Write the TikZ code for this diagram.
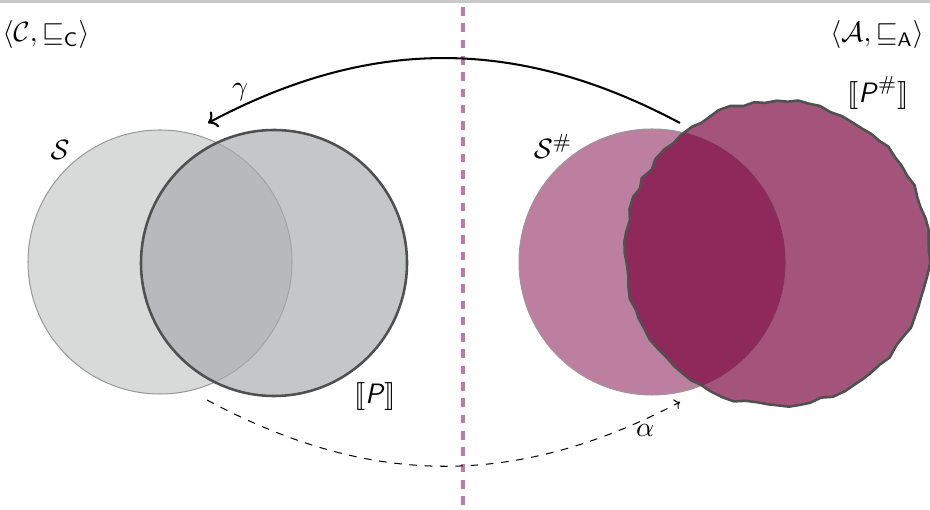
\documentclass[tikz,border=0pt]{standalone}
\usepackage{amsmath, amssymb, stmaryrd}
\usepackage{tikz}
\usetikzlibrary{arrows.meta, decorations.pathmorphing}

\definecolor{bandgray}{RGB}{200,200,200}
\definecolor{sepplum}{RGB}{192,122,160}
\definecolor{concS}{RGB}{216,217,217}
\definecolor{concP}{RGB}{169,170,173}
\definecolor{absS}{RGB}{189,127,160}
\definecolor{absP}{RGB}{120,0,57}
\definecolor{rimgray}{RGB}{80,80,80}

\begin{document}
\begin{tikzpicture}[x=0.0138cm, y=0.0138cm, font=\fontsize{11}{13}\selectfont]
\useasboundingbox (0,0) rectangle (930,509);

% Top band
\fill[bandgray] (0,506) rectangle (930,509);

% Separator between the two domains
\draw[sepplum, line width=1.3pt, dash pattern=on 3.4pt off 3pt] (463,502) -- (463,0);

% Concrete side
\draw[gray!80, line width=0.4pt, fill=concS] (160,247) circle (132);
\draw[rimgray, line width=1pt, fill=concP, fill opacity=0.67] (274,246) circle (133);

% Abstract side
\draw[gray!80, line width=0.4pt, fill=absS] (652,247) circle (133);
\pgfmathsetseed{7}
\draw[rimgray, line width=1pt, fill=absP, fill opacity=0.67,
  decorate, decoration={random steps, segment length=4.5pt, amplitude=0.8pt}]
  (777,256) circle (152);

% Labels
\node (domC) at (46,474) {$\langle\mathcal{C},\sqsubseteq_{\textsf{C}}\rangle$};
\node (domA) at (877,474) {$\langle\mathcal{A},\sqsubseteq_{\textsf{A}}\rangle$};
\node (setS) at (60,359) {$\mathcal{S}$};
\node (setSa) at (553,363) {$\mathcal{S}^{\#}$};
\node (semP) at (375,112) {$\llbracket\textsf{\textit{P}}\rrbracket$};
\node (semPa) at (878,416) {$\llbracket\textsf{\textit{P}}^{\#}\rrbracket$};

% gamma
\coordinate (gamFrom) at (680,386);
\coordinate (gamTo) at (208,386);
\draw[-{To}, line width=0.8pt] (gamFrom) to[bend right=28] (gamTo);
\node (gam) at (240,417) {$\gamma$};

% alpha
\coordinate (alpFrom) at (207,109);
\coordinate (alpTo) at (680,107);
\draw[-{To[length=2pt]}, dashed] (alpFrom) to[bend right=28] (alpTo);
\node (alp) at (645,79) {$\alpha$};

\end{tikzpicture}
\end{document}
